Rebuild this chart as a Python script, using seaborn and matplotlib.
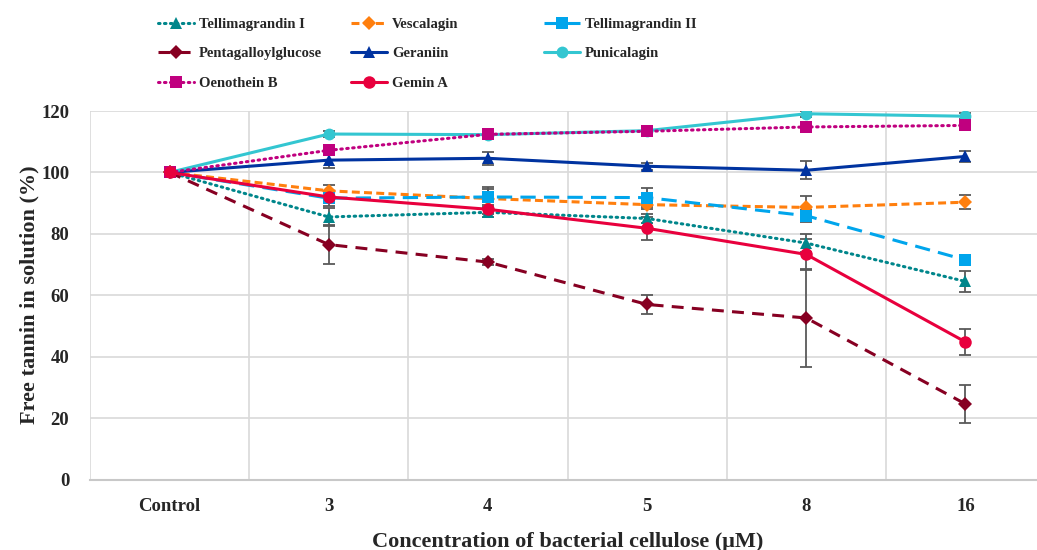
import matplotlib
matplotlib.use("Agg")
import matplotlib.pyplot as plt
import seaborn as sns
import numpy as np
import pandas as pd

# ---- data ----
categories = ["Control", "3", "4", "5", "8", "16"]

tellimagrandin_1 = [100, 85.5, 87.0, 85.0, 77.0, 64.5]
tellimagrandin_1_err = [0, 3.0, 1.5, 1.5, 3.0, 3.5]
vescalagin = [100, 94.0, 91.5, 89.5, 88.6, 90.3]
vescalagin_err = [0, 2.0, 3.0, 1.5, 3.7, 2.2]
tellimagrandin_2 = [100, 91.6, 92.0, 91.8, 85.9, 71.5]
tellimagrandin_2_err = [0, 2.5, 3.2, 3.0, 2.0, 1.0]
pentagalloylglucose = [100, 76.5, 70.8, 57.0, 52.6, 24.6]
pentagalloylglucose_err = [0, 6.3, 1.0, 3.2, 16.0, 6.2]
geraniin = [100, 104.0, 104.6, 102.0, 100.7, 105.2]
geraniin_err = [0, 2.5, 2.2, 1.2, 3.0, 1.8]
punicalagin = [100, 112.5, 112.3, 113.6, 119.1, 118.3]
punicalagin_err = [0, 1.0, 1.0, 1.0, 1.0, 1.0]
oenothein_b = [100, 107.2, 112.4, 113.4, 114.8, 115.3]
oenothein_b_err = [0, 1.5, 1.0, 1.0, 1.0, 1.0]
gemin_a = [100, 92.0, 88.0, 81.8, 73.3, 44.8]
gemin_a_err = [0, 1.5, 1.5, 3.8, 5.0, 4.3]

series_names = ["Tellimagrandin I", "Vescalagin", "Tellimagrandin II",
                "Pentagalloylglucose", "Geraniin", "Punicalagin",
                "Oenothein B", "Gemin A"]
series_values = [tellimagrandin_1, vescalagin, tellimagrandin_2,
                 pentagalloylglucose, geraniin, punicalagin,
                 oenothein_b, gemin_a]
series_errors = [tellimagrandin_1_err, vescalagin_err, tellimagrandin_2_err,
                 pentagalloylglucose_err, geraniin_err, punicalagin_err,
                 oenothein_b_err, gemin_a_err]

# ---- styles ----
styles = {
    "Tellimagrandin I": dict(color="#00868B", marker="^", ls=(0, (0.5, 1.45)), ms=8),
    "Vescalagin": dict(color="#FF7F0E", marker="D", ls=(0, (2.6, 1.4)), ms=6.8),
    "Tellimagrandin II": dict(color="#00A5EC", marker="s", ls=(0, (5, 2.7)), ms=8),
    "Pentagalloylglucose": dict(color="#870022", marker="D", ls=(0, (3.9, 2.7)), ms=6.8),
    "Geraniin": dict(color="#0033A0", marker="^", ls="-", ms=8.8),
    "Punicalagin": dict(color="#33C6D1", marker="o", ls="-", ms=8.5),
    "Oenothein B": dict(color="#C0007F", marker="s", ls=(0, (0.5, 1.45)), ms=8.3),
    "Gemin A": dict(color="#E8003D", marker="o", ls="-", ms=9),
}

sns.set_theme(style="white")
plt.rcParams["font.family"] = ["Liberation Serif", "DejaVu Serif"]
plt.rcParams["font.weight"] = "bold"

W, H = 1037, 550
fig = plt.figure(figsize=(W / 100, H / 100), dpi=100)
x0, x1, ytop, ybot = 90, 1045, 111, 479.5
ax = fig.add_axes([x0 / W, (H - ybot) / H, (x1 - x0) / W, (ybot - ytop) / H])

x = np.arange(len(categories))
handles = {}
for name, vals, errs in zip(series_names, series_values, series_errors):
    st = styles[name]
    df = pd.DataFrame({"x": x, "y": vals})
    ax.errorbar(x, vals, yerr=errs, fmt="none", ecolor="#595959",
                elinewidth=1.3, capsize=4.5, capthick=1.3, zorder=2)
    dotted = st["ls"] != "-" and st["ls"][1][0] < 1
    sns.lineplot(data=df, x="x", y="y", ax=ax, color=st["color"],
                 marker=st["marker"], markersize=st["ms"],
                 markeredgecolor=st["color"], markeredgewidth=0,
                 linestyle=st["ls"], linewidth=2.2, zorder=3,
                 dash_capstyle="round" if dotted else "butt",
                 legend=False)
    handles[name] = ax.lines[-1]

ax.set_xlim(-0.5, len(categories) - 0.5)
ax.set_ylim(0, 120)
ax.set_yticks(np.arange(0, 121, 20))
ax.set_xticks(x)
ax.set_xticklabels(categories)
ax.set_xticks(np.arange(-0.5, len(categories), 1.0), minor=True)

ax.grid(False)
ax.yaxis.grid(True, color="#D9D9D9", linewidth=1.2)
ax.xaxis.grid(True, which="minor", color="#D9D9D9", linewidth=1.2)
ax.set_axisbelow(True)
for s in ["top", "right", "left"]:
    ax.spines[s].set_visible(False)
ax.spines["bottom"].set_color("#C8C8C8")
ax.spines["bottom"].set_linewidth(1.5)
ax.spines["bottom"].set_zorder(1)

ax.tick_params(axis="both", which="both", length=0, labelsize=13.5)
ax.tick_params(axis="x", pad=13)
ax.tick_params(axis="y", pad=15)
for lab in ax.get_xticklabels() + ax.get_yticklabels():
    lab.set_fontweight("bold")

ax.set_xlabel("Concentration of bacterial cellulose (μM)", fontsize=16,
              fontweight="bold")
ax.set_ylabel("Free tannin in solution (%)", fontsize=16, fontweight="bold")
ax.xaxis.set_label_coords((568 - x0) / (x1 - x0), -(532 - ybot) / (ybot - ytop))
ax.yaxis.set_label_coords(-(x0 - 39) / (x1 - x0), (ybot - 295) / (ybot - ytop))

# legend: three columns at fixed positions, read row-wise
columns = [["Tellimagrandin I", "Pentagalloylglucose", "Oenothein B"],
           ["Vescalagin", "Geraniin", "Gemin A"],
           ["Tellimagrandin II", "Punicalagin"]]
col_x = [158, 351, 544]
for cx, names in zip(col_x, columns):
    lg = fig.legend([handles[n] for n in names], names, loc="upper left",
                    bbox_to_anchor=(cx / W, 1 - 18 / H), ncol=1,
                    frameon=False, handlelength=2.5,
                    handletextpad=0.3, labelspacing=1.1,
                    borderpad=0, borderaxespad=0,
                    prop={"weight": "bold", "size": 10.5})

fig.savefig("out.png", dpi=100)
